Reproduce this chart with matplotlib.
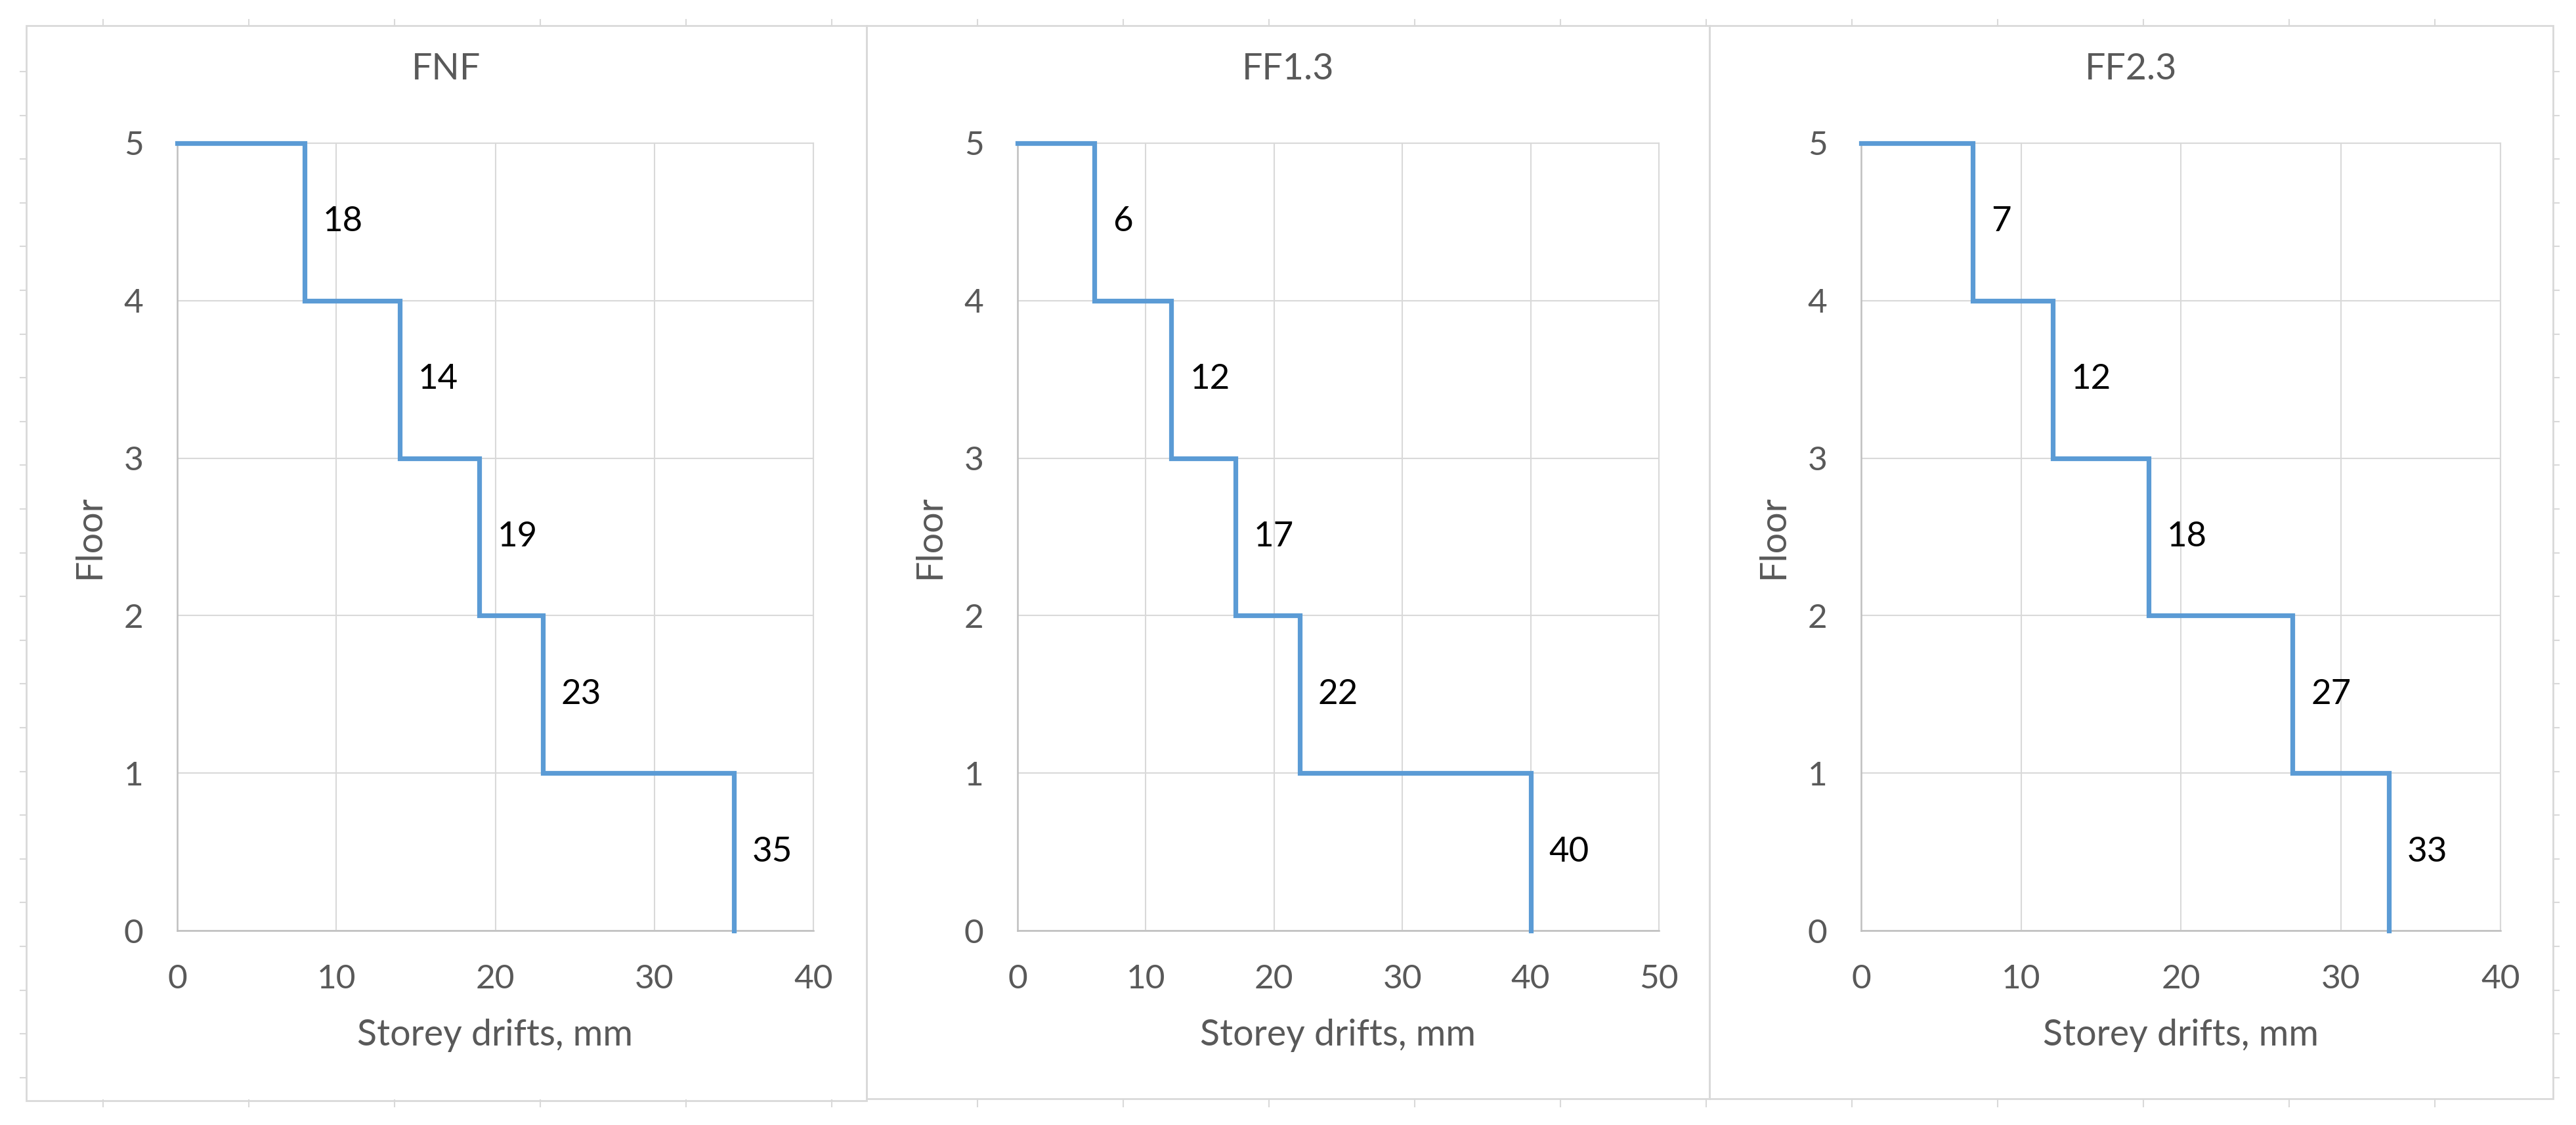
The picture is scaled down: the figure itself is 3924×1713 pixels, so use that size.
import numpy as np
import matplotlib
matplotlib.use("Agg")
import matplotlib.pyplot as plt
from matplotlib.lines import Line2D
from matplotlib.patches import Rectangle

plt.rcParams["font.family"] = ["Lato", "DejaVu Sans"]

# data: storey drifts (mm) reached on each floor, top floor first
floors = [5, 4, 3, 2, 1]
titles = ["FNF", "FF1.3", "FF2.3"]
fnf_drift = [8, 14, 19, 23, 35]
ff13_drift = [6, 12, 17, 22, 40]
ff23_drift = [7, 12, 18, 27, 33]
fnf_labels = ["18", "14", "19", "23", "35"]
ff13_labels = ["6", "12", "17", "22", "40"]
ff23_labels = ["7", "12", "18", "27", "33"]
x_limits = [40, 50, 40]

W, H = 3924, 1713
fig = plt.figure(figsize=(W / 100, H / 100), dpi=100)
fig.patch.set_facecolor("white")


def fx(x):
    return x / W


def fy(y):
    return 1 - y / H


GRID = "#D9D9D9"
AXIS = "#BFBFBF"
TEXT = "#595959"
BLUE = "#5B9BD5"

# faint spreadsheet cell lines peeking out around the charts
for cx in np.arange(157, 3800, 222):
    fig.add_artist(Line2D([fx(cx), fx(cx)], [fy(30), fy(39)], color=GRID, lw=1.5))
    fig.add_artist(Line2D([fx(cx), fx(cx)], [fy(1675), fy(1685)], color=GRID, lw=1.5))
for ry in np.arange(109, 1670, 66.6):
    fig.add_artist(Line2D([fx(31), fx(40)], [fy(ry), fy(ry)], color=GRID, lw=1.5))
    fig.add_artist(Line2D([fx(3889), fx(3898)], [fy(ry), fy(ry)], color=GRID, lw=1.5))

# chart frames (left, top, right, bottom in pixels)
frames = [(40, 39, 1320, 1676), (1320, 39, 2604, 1673), (2604, 39, 3889, 1673)]
for l, t, r, b in frames:
    fig.add_artist(Rectangle((fx(l), fy(b)), fx(r - l), (b - t) / H,
                             facecolor="none", edgecolor=GRID, lw=2))

plot_areas = [(270, 218, 1239, 1417), (1550, 218, 2527, 1417), (2835, 218, 3809, 1417)]
drifts = [fnf_drift, ff13_drift, ff23_drift]
labels = [fnf_labels, ff13_labels, ff23_labels]

for i in range(3):
    l, t, r, b = plot_areas[i]
    ax = fig.add_axes([fx(l), fy(b), (r - l) / W, (b - t) / H])
    d = drifts[i]
    xs = np.concatenate([[0], np.repeat(d, 2)])
    ys = np.concatenate([np.repeat(floors, 2), [0]])
    ax.plot(xs, ys, color=BLUE, lw=5.2, solid_joinstyle="miter", clip_on=False, zorder=5)

    for xv, fl, lab in zip(d, floors, labels[i]):
        ax.annotate(lab, xy=(xv, fl - 0.5), xytext=(20, 0), textcoords="offset points",
                    ha="left", va="center", fontsize=38, color="black")

    ax.set_xlim(0, x_limits[i])
    ax.set_ylim(0, 5)
    ax.set_xticks(np.arange(0, x_limits[i] + 1, 10))
    ax.set_yticks(range(0, 6))
    ax.grid(True, color=GRID, lw=1.5)
    ax.set_axisbelow(True)
    ax.tick_params(length=0, labelsize=37, labelcolor=TEXT, pad=37)
    for s in ["top", "right"]:
        ax.spines[s].set_color(GRID)
        ax.spines[s].set_linewidth(1.5)
    for s in ["left", "bottom"]:
        ax.spines[s].set_color(AXIS)
        ax.spines[s].set_linewidth(1.8)

    aw, ah = r - l, b - t
    fl_, ft_, fr_, fb_ = frames[i]
    ax.set_title(titles[i], x=((fl_ + fr_) / 2 - l) / aw, y=(b - 114) / ah,
                 va="center", fontsize=40, color=TEXT)
    ax.set_xlabel("Storey drifts, mm", fontsize=40, color=TEXT)
    ax.xaxis.set_label_coords(0.5, -(1576 - b) / ah)
    ax.xaxis.label.set_va("center")
    ax.set_ylabel("Floor", fontsize=40, color=TEXT)
    ax.yaxis.set_label_coords(-134 / aw, 0.5)
    ax.yaxis.label.set_va("center")

fig.savefig("out.png", dpi=100, facecolor="white")
